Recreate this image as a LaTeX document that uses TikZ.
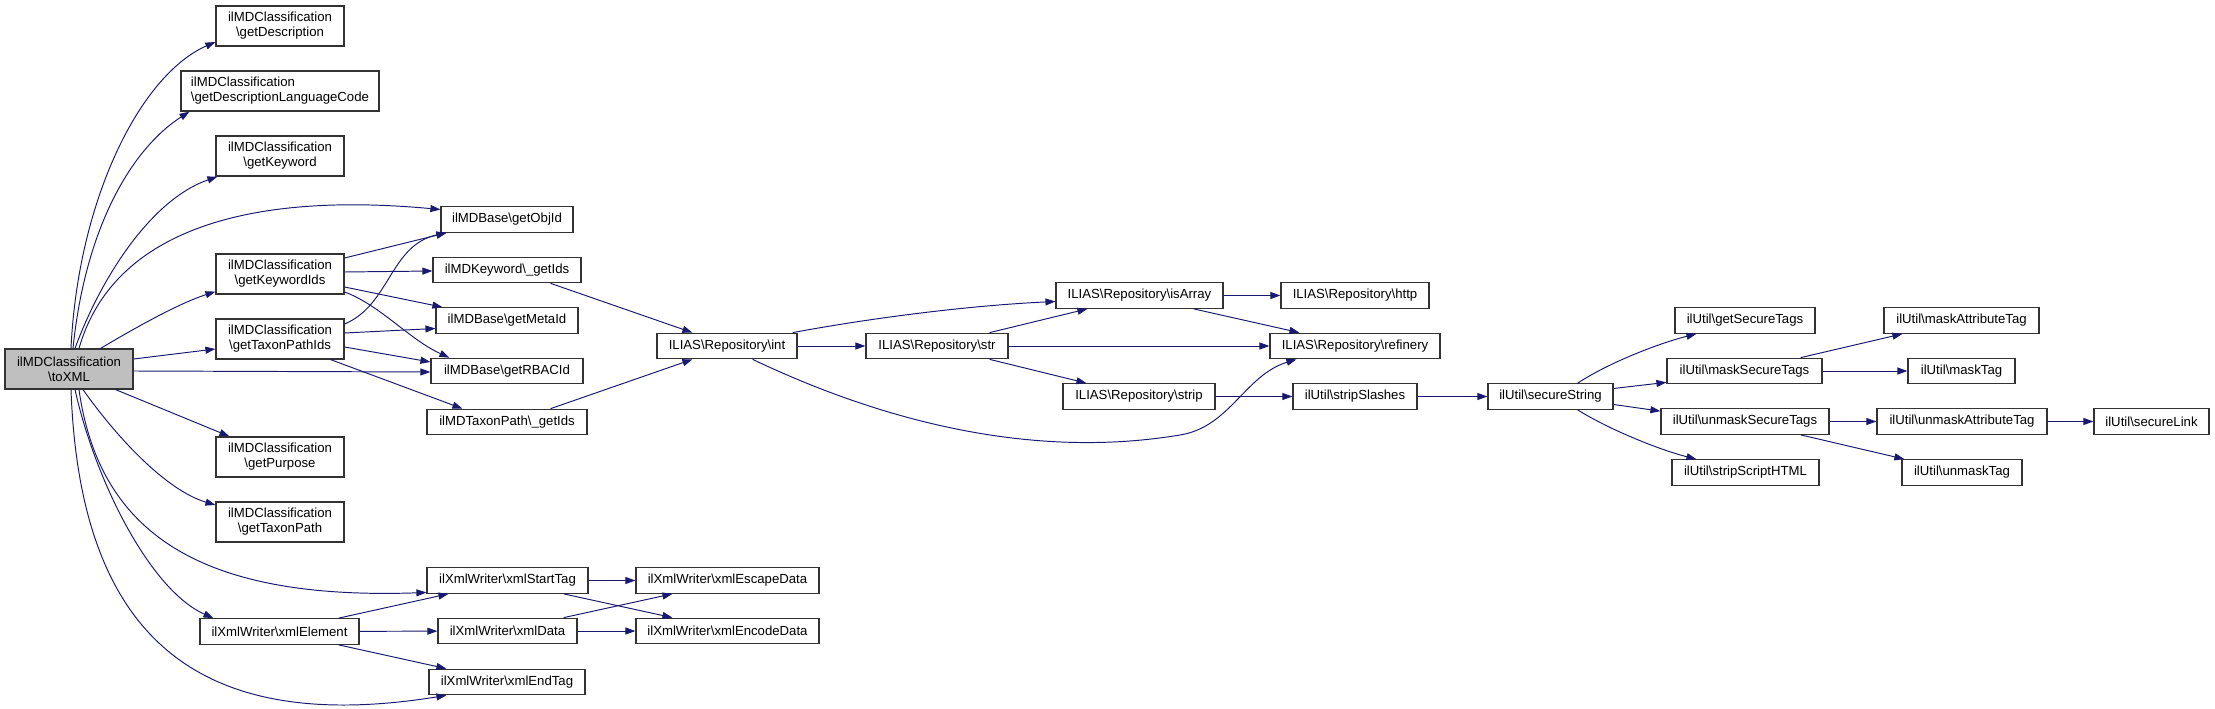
\documentclass[tikz,border=0pt]{standalone}
\usepackage{fontspec}
\setmainfont{Liberation Sans}
\usepackage{xcolor}
\usetikzlibrary{arrows.meta,calc}
\definecolor{edgeblue}{RGB}{25,25,112}
\definecolor{rootgray}{RGB}{191,191,191}
\newcommand{\bsl}{\textbackslash}

\begin{document}
\begin{tikzpicture}[x=0.02cm, y=-0.02cm,
        func/.style={draw=black!80, line width=0.7pt, fill=white, inner sep=0pt, minimum height=0.51cm, font=\fontsize{7.5}{8.5}\selectfont, align=center},
        two/.style={minimum height=0.8cm},
        call/.style={draw=edgeblue, line width=0.55pt, -{Triangle[length=0.2cm,width=0.14cm]}}]
        \useasboundingbox (0,0) rectangle (2215,709);
        \node[func, two, fill=rootgray, minimum width=2.56cm] (toXML) at (69,369) {ilMDClassification\\\bsl toXML};
        \node[func, two, minimum width=2.56cm] (getDescription) at (280,26) {ilMDClassification\\\bsl getDescription};
        \node[func, two, minimum width=3.96cm, align=left] (getDescLang) at (280,91) {ilMDClassification\\\bsl getDescriptionLanguageCode};
        \node[func, two, minimum width=2.56cm] (getKeyword) at (280,156) {ilMDClassification\\\bsl getKeyword};
        \node[func, two, minimum width=2.56cm] (getKeywordIds) at (280,274) {ilMDClassification\\\bsl getKeywordIds};
        \node[func, two, minimum width=2.56cm] (getTaxonPathIds) at (280,339) {ilMDClassification\\\bsl getTaxonPathIds};
        \node[func, two, minimum width=2.56cm] (getPurpose) at (280,457) {ilMDClassification\\\bsl getPurpose};
        \node[func, two, minimum width=2.56cm] (getTaxonPath) at (280,522) {ilMDClassification\\\bsl getTaxonPath};
        \node[func, minimum width=3.18cm] (xmlElement) at (279.5,631.5) {ilXmlWriter\bsl xmlElement};
        \node[func, minimum width=2.64cm] (getObjId) at (507,219.5) {ilMDBase\bsl getObjId};
        \node[func, minimum width=2.96cm] (kwGetIds) at (507,270) {ilMDKeyword\bsl\_getIds};
        \node[func, minimum width=2.84cm] (getMetaId) at (507,320.5) {ilMDBase\bsl getMetaId};
        \node[func, minimum width=3.04cm] (getRBACId) at (507,371) {ilMDBase\bsl getRBACId};
        \node[func, minimum width=3.2cm] (taxGetIds) at (507,422) {ilMDTaxonPath\bsl\_getIds};
        \node[func, minimum width=3.22cm] (xmlStartTag) at (507.5,580.5) {ilXmlWriter\bsl xmlStartTag};
        \node[func, minimum width=2.78cm] (xmlData) at (507.5,631) {ilXmlWriter\bsl xmlData};
        \node[func, minimum width=3.12cm] (xmlEndTag) at (507,682) {ilXmlWriter\bsl xmlEndTag};
        \node[func, minimum width=3.66cm] (xmlEscapeData) at (727.5,580.5) {ilXmlWriter\bsl xmlEscapeData};
        \node[func, minimum width=3.66cm] (xmlEncodeData) at (727.5,631) {ilXmlWriter\bsl xmlEncodeData};
        \node[func, minimum width=2.8cm] (repInt) at (727,346) {ILIAS\bsl Repository\bsl int};
        \node[func, minimum width=2.84cm] (repStr) at (937,346) {ILIAS\bsl Repository\bsl str};
        \node[func, minimum width=3.34cm] (isArray) at (1139.5,295.5) {ILIAS\bsl Repository\bsl isArray};
        \node[func, minimum width=3.04cm] (strip) at (1139,396.5) {ILIAS\bsl Repository\bsl strip};
        \node[func, minimum width=2.96cm] (http) at (1355,295.5) {ILIAS\bsl Repository\bsl http};
        \node[func, minimum width=3.4cm] (refinery) at (1355,346) {ILIAS\bsl Repository\bsl refinery};
        \node[func, minimum width=2.48cm] (stripSlashes) at (1355,396.5) {ilUtil\bsl stripSlashes};
        \node[func, minimum width=2.5cm] (secureString) at (1550.5,396.5) {ilUtil\bsl secureString};
        \node[func, minimum width=2.8cm] (getSecureTags) at (1745,320.5) {ilUtil\bsl getSecureTags};
        \node[func, minimum width=3.1cm] (maskSecureTags) at (1744.5,371) {ilUtil\bsl maskSecureTags};
        \node[func, minimum width=3.36cm] (unmaskSecureTags) at (1745,421.5) {ilUtil\bsl unmaskSecureTags};
        \node[func, minimum width=2.94cm] (stripScriptHTML) at (1745.5,472.5) {ilUtil\bsl stripScriptHTML};
        \node[func, minimum width=3.1cm] (maskAttributeTag) at (1961.5,320.5) {ilUtil\bsl maskAttributeTag};
        \node[func, minimum width=2.14cm] (maskTag) at (1961.5,371) {ilUtil\bsl maskTag};
        \node[func, minimum width=3.4cm] (unmaskAttributeTag) at (1962,421.5) {ilUtil\bsl unmaskAttributeTag};
        \node[func, minimum width=2.4cm] (unmaskTag) at (1962,472.5) {ilUtil\bsl unmaskTag};
        \node[func, minimum width=2.3cm] (secureLink) at (2151.5,421.5) {ilUtil\bsl secureLink};

        \draw[call] ($(toXML.north)+(2,0)$) .. controls (78,200) and (140,75) .. ($(getDescription.west)+(0,16)$);
        \draw[call] ($(toXML.north)+(4,0)$) .. controls (85,230) and (130,150) .. ($(getDescLang.south west)+(9,0)$);
        \draw[call] ($(toXML.north)+(6,0)$) .. controls (100,280) and (150,200) .. ($(getKeyword.south west)+(2,0)$);
        \draw[call] ($(toXML.north)+(10,0)$) .. controls (110,240) and (230,190) .. ($(getObjId.west)+(0,-10)$);
        \draw[call] ($(toXML.north east)+(-33,0)$) .. controls (140,325) and (180,303) .. ($(getKeywordIds.south west)+(0,-3)$);
        \draw[call] ($(toXML.east)+(0,-10)$) -- ($(getTaxonPathIds.west)+(0,10)$);
        \draw[call] ($(toXML.east)+(0,2)$) -- ($(getRBACId.west)+(0,1)$);
        \draw[call] ($(toXML.south east)+(-18,0)$) -- ($(getPurpose.north west)+(14,0)$);
        \draw[call] ($(toXML.south)+(14,0)$) .. controls (115,435) and (165,490) .. ($(getTaxonPath.west)+(0,-17)$);
        \draw[call] ($(toXML.south)+(10,0)$) .. controls (100,540) and (210,600) .. ($(xmlStartTag.west)+(0,12)$);
        \draw[call] ($(toXML.south)+(6,0)$) .. controls (95,480) and (150,590) .. ($(xmlElement.north west)+(14,0)$);
        \draw[call] ($(toXML.south)+(2,0)$) .. controls (80,640) and (200,735) .. ($(xmlEndTag.south west)+(18,0)$);

        \draw[call] ($(getKeywordIds.east)+(0,-16)$) -- ($(getObjId.south west)+(6,0)$);
        \draw[call] ($(getKeywordIds.east)+(0,-2)$) -- ($(kwGetIds.west)+(0,1)$);
        \draw[call] ($(getKeywordIds.east)+(0,13)$) -- ($(getMetaId.north west)+(7,0)$);
        \draw[call] ($(getKeywordIds.east)+(0,18)$) .. controls (380,305) and (410,340) .. ($(getRBACId.north west)+(19,0)$);
        \draw[call] ($(getTaxonPathIds.east)+(0,-15)$) .. controls (390,305) and (390,245) .. ($(getObjId.south west)+(6,0)$);
        \draw[call] ($(getTaxonPathIds.east)+(0,-6)$) -- ($(getMetaId.west)+(0,8)$);
        \draw[call] ($(getTaxonPathIds.east)+(0,8)$) -- ($(getRBACId.west)+(0,-9)$);
        \draw[call] ($(getTaxonPathIds.south east)+(-14,0)$) -- ($(taxGetIds.north west)+(36,0)$);

        \draw[call] ($(kwGetIds.south east)+(-31,0)$) -- ($(repInt.north west)+(36,0)$);
        \draw[call] ($(taxGetIds.north east)+(-37,0)$) -- ($(repInt.south west)+(36,0)$);
        \draw[call] ($(repInt.north east)+(-5,0)$) .. controls (860,320) and (960,306) .. ($(isArray.west)+(0,6)$);
        \draw[call] (repInt) -- (repStr);
        \draw[call] ($(repInt.south east)+(-45,0)$) .. controls (880,420) and (1030,460) .. (1180,435) .. controls (1230,427) and (1245,375) .. ($(refinery.south west)+(27,0)$);
        \draw[call] ($(repStr.north east)+(-19,0)$) -- ($(isArray.south west)+(32,0)$);
        \draw[call] (repStr) -- (refinery);
        \draw[call] ($(repStr.south east)+(-19,0)$) -- ($(strip.north west)+(24,0)$);
        \draw[call] (isArray) -- (http);
        \draw[call] ($(isArray.south east)+(-30,0)$) -- ($(refinery.north west)+(30,0)$);
        \draw[call] (strip) -- (stripSlashes);
        \draw[call] (stripSlashes) -- (secureString);

        \draw[call] ($(secureString.north east)+(-36,0)$) .. controls (1610,362) and (1660,343) .. ($(getSecureTags.south west)+(22,0)$);
        \draw[call] ($(secureString.east)+(0,-8)$) -- ($(maskSecureTags.south west)+(0,-2)$);
        \draw[call] ($(secureString.east)+(0,8)$) -- ($(unmaskSecureTags.north west)+(0,3)$);
        \draw[call] ($(secureString.south east)+(-36,0)$) .. controls (1610,430) and (1660,450) .. ($(stripScriptHTML.north west)+(25,0)$);
        \draw[call] ($(maskSecureTags.north east)+(-22,0)$) -- ($(maskAttributeTag.south west)+(19,0)$);
        \draw[call] (maskSecureTags) -- (maskTag);
        \draw[call] (unmaskSecureTags) -- (unmaskAttributeTag);
        \draw[call] ($(unmaskSecureTags.south east)+(-29,0)$) -- ($(unmaskTag.north west)+(3,0)$);
        \draw[call] (unmaskAttributeTag) -- (secureLink);

        \draw[call] ($(xmlElement.north east)+(-21,0)$) -- ($(xmlStartTag.south west)+(22,0)$);
        \draw[call] (xmlElement) -- (xmlData);
        \draw[call] ($(xmlElement.south east)+(-21,0)$) -- ($(xmlEndTag.north west)+(18,0)$);
        \draw[call] (xmlStartTag) -- (xmlEscapeData);
        \draw[call] ($(xmlStartTag.south east)+(-25,0)$) -- ($(xmlEncodeData.north west)+(37,0)$);
        \draw[call] ($(xmlData.north east)+(-14,0)$) -- ($(xmlEscapeData.south west)+(37,0)$);
        \draw[call] (xmlData) -- (xmlEncodeData);
\end{tikzpicture}
\end{document}
